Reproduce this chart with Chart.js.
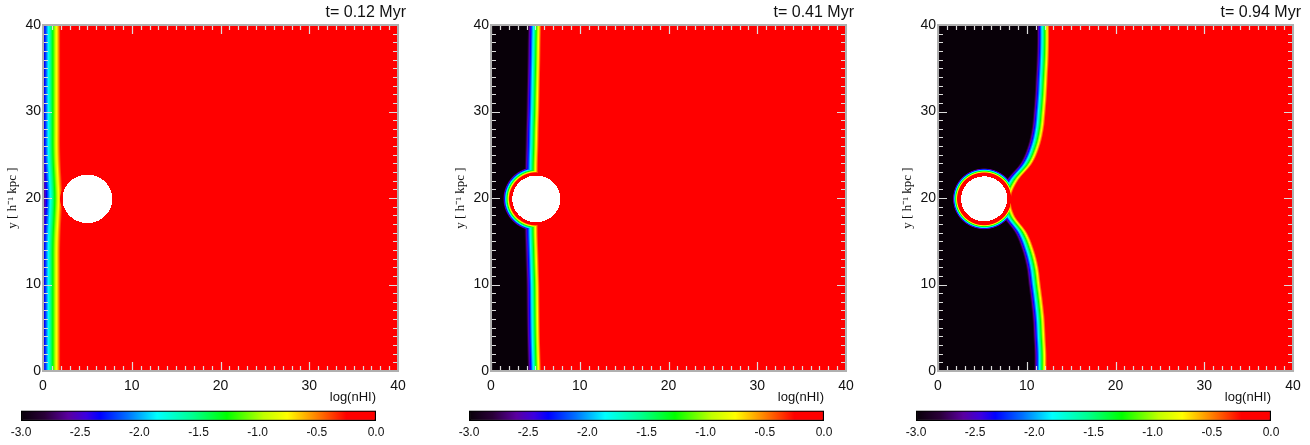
<!DOCTYPE html>
<html>
<head>
<meta charset="utf-8">
<script src="https://cdn.jsdelivr.net/npm/chart.js@4.4.1/dist/chart.umd.min.js"></script>
<style>
  body { margin: 0; background: #fff; width: 1310px; height: 445px; position: relative; overflow: hidden; }
  canvas { position: absolute; }
</style>
</head>
<body>
<canvas id="map0" width="447" height="400" style="left:0px;top:0px"></canvas>
<canvas id="map1" width="447" height="400" style="left:448px;top:0px"></canvas>
<canvas id="map2" width="447" height="400" style="left:895px;top:0px"></canvas>
<canvas id="bar0" width="447" height="60" style="left:0px;top:385px"></canvas>
<canvas id="bar1" width="447" height="60" style="left:448px;top:385px"></canvas>
<canvas id="bar2" width="447" height="60" style="left:895px;top:385px"></canvas>
<script>
// ---- data ----
const panelTitles = ['t= 0.12 Myr', 't= 0.41 Myr', 't= 0.94 Myr'];
const yKnots = [0, 2, 4, 6, 8, 10, 12, 14, 16, 18, 20, 22, 24, 26, 28, 30, 32, 34, 36, 38, 40];
// x of the ionisation front (middle of the colour band) at each yKnot
const front012 = [0.9, 0.9, 0.9, 0.9, 0.9, 0.9, 0.9, 0.9, 0.95, 1.05, 1.12, 1.05, 0.95, 0.9, 0.9, 0.9, 0.9, 0.9, 0.9, 0.9, 0.9];
const front041 = [4.95, 4.9, 4.85, 4.82, 4.8, 4.78, 4.72, 4.66, 4.6, 4.6, 4.6, 4.6, 4.62, 4.68, 4.72, 4.78, 4.82, 4.86, 4.9, 4.93, 4.97];
const front094 = [11.6, 11.6, 11.5, 11.4, 11.2, 10.95, 10.7, 10.2, 9.4, 8.0, 7.6, 8.4, 10.0, 10.85, 11.3, 11.5, 11.65, 11.75, 11.85, 11.9, 11.9];
const fronts = [front012, front041, front094];
const frontWidth = [2.6, 1.7, 1.6];   // log(nHI) -3..0 across this many kpc
// the cloud and the shell round it
const cloudX = [5.0, 5.1, 5.2];
const cloudY = [19.9, 19.9, 19.9];
const cloudR = [2.8, 2.7, 2.6];
const shellR = [3.4, 3.35, 3.25];
const shellWidth = [0.9, 0.8, 0.6];

const axisTicks = [0, 10, 20, 30, 40];
const cbarTicks = [-3.0, -2.5, -2.0, -1.5, -1.0, -0.5, 0.0];
const cmapStops = [-3.0, -2.8, -2.6, -2.45, -2.33, -2.1, -1.85, -1.55, -1.26, -0.95, -0.75, -0.5, -0.25, 0.0];
const cmapColors = ['#080008', '#2a0038', '#5a00a0', '#3c00e0', '#0000ff', '#0070ff', '#00ffff', '#00ff90', '#00ff00', '#c0ff00', '#ffff00', '#ff8000', '#ff0000', '#ff0000'];

const sans = "'Liberation Sans', Arial, sans-serif";
const textColor = '#111';

function hexRgb(h) {
  return [parseInt(h.slice(1, 3), 16), parseInt(h.slice(3, 5), 16), parseInt(h.slice(5, 7), 16)];
}
const cmapRgb = cmapColors.map(hexRgb);
function colorAt(v) {
  if (v <= cmapStops[0]) return cmapRgb[0];
  for (let k = 1; k < cmapStops.length; k++) {
    if (v <= cmapStops[k]) {
      const t = (v - cmapStops[k - 1]) / (cmapStops[k] - cmapStops[k - 1]);
      const a = cmapRgb[k - 1], b = cmapRgb[k];
      return [a[0] + (b[0] - a[0]) * t, a[1] + (b[1] - a[1]) * t, a[2] + (b[2] - a[2]) * t];
    }
  }
  return cmapRgb[cmapRgb.length - 1];
}

// smooth (catmull-rom) curve through the front points, like a line with tension
function frontAt(pts, y) {
  const n = pts.length;
  if (y <= pts[0].y) return pts[0].x;
  if (y >= pts[n - 1].y) return pts[n - 1].x;
  let k = 1;
  while (k < n - 1 && y > pts[k].y) k++;
  const p0 = pts[Math.max(0, k - 2)].x, p1 = pts[k - 1].x, p2 = pts[k].x, p3 = pts[Math.min(n - 1, k + 1)].x;
  const t = (y - pts[k - 1].y) / (pts[k].y - pts[k - 1].y);
  const t2 = t * t, t3 = t2 * t;
  return 0.5 * (2 * p1 + (-p0 + p2) * t + (2 * p0 - 5 * p1 + 4 * p2 - p3) * t2 + (-p0 + 3 * p1 - 3 * p2 + p3) * t3);
}

// paints the log(nHI) field behind the datasets, pixel by pixel, through the scales
const fieldPlugin = {
  id: 'field',
  beforeDatasetsDraw(chart, args, opts) {
    const p = opts.panel;
    const xs = chart.scales.x, ys = chart.scales.y;
    const a = chart.chartArea;
    const L = Math.round(a.left), T = Math.round(a.top);
    const W = Math.round(a.right) - L, H = Math.round(a.bottom) - T;
    const img = chart.ctx.createImageData(W, H);
    const pts = chart.data.datasets[0].data;
    for (let j = 0; j < H; j++) {
      const y = ys.getValueForPixel(T + j + 0.5);
      const xf = frontAt(pts, y);
      for (let i = 0; i < W; i++) {
        const x = xs.getValueForPixel(L + i + 0.5);
        const idx = (j * W + i) * 4;
        const r = Math.hypot(x - cloudX[p], y - cloudY[p]);
        if (r < cloudR[p]) {
          img.data[idx] = 255; img.data[idx + 1] = 255; img.data[idx + 2] = 255; img.data[idx + 3] = 255;
          continue;
        }
        let v = -1.5 + 3 * (x - xf) / frontWidth[p];
        const vs = -1.5 + 3 * (shellR[p] - r) / shellWidth[p];
        v = Math.min(0, Math.max(-3, Math.max(v, vs)));
        const c = colorAt(v);
        img.data[idx] = c[0]; img.data[idx + 1] = c[1]; img.data[idx + 2] = c[2]; img.data[idx + 3] = 255;
      }
    }
    chart.ctx.putImageData(img, L, T);
  },
  afterDraw(chart, args, opts) {
    const ctx = chart.ctx;
    const xs = chart.scales.x, ys = chart.scales.y;
    const a = chart.chartArea;
    ctx.save();
    // inward tick marks on all four sides
    ctx.strokeStyle = '#dcdcdc';
    ctx.lineWidth = 1.2;
    ctx.beginPath();
    for (let v = 0; v <= 40; v++) {
      const len = v % 10 === 0 ? 9 : 5;
      const px = Math.round(xs.getPixelForValue(v)) + 0.5;
      const py = Math.round(ys.getPixelForValue(v)) + 0.5;
      ctx.moveTo(px, a.bottom); ctx.lineTo(px, a.bottom - len);
      ctx.moveTo(px, a.top); ctx.lineTo(px, a.top + len);
      ctx.moveTo(a.left, py); ctx.lineTo(a.left + len, py);
      ctx.moveTo(a.right, py); ctx.lineTo(a.right - len, py);
    }
    ctx.stroke();
    ctx.strokeStyle = '#b0b0b0';
    ctx.lineWidth = 2;
    ctx.strokeRect(a.left, a.top, a.right - a.left, a.bottom - a.top);
    // panel time label
    ctx.fillStyle = textColor;
    ctx.font = '16px ' + sans;
    ctx.textAlign = 'right';
    ctx.textBaseline = 'middle';
    ctx.fillText(opts.title, a.right + 8, 13);
    ctx.restore();
  }
};

for (let p = 0; p < 3; p++) {
  new Chart(document.getElementById('map' + p), {
    type: 'scatter',
    data: {
      datasets: [{
        label: 'front',
        data: yKnots.map((y, k) => ({ x: fronts[p][k], y: y })),
        pointRadius: 0,
        showLine: false
      }]
    },
    options: {
      responsive: false,
      animation: false,
      layout: { padding: { left: 2, right: 49, top: 25, bottom: 0 } },
      plugins: {
        legend: { display: false },
        tooltip: { enabled: false },
        field: { panel: p, title: panelTitles[p] }
      },
      scales: {
        x: {
          type: 'linear', min: 0, max: 40,
          afterBuildTicks: s => { s.ticks = axisTicks.map(v => ({ value: v })); },
          afterFit: s => { s.height = 29; },
          grid: { display: false, drawTicks: false },
          border: { display: false },
          ticks: { padding: 7, color: textColor, font: { family: sans, size: 14 }, maxRotation: 0 }
        },
        y: {
          type: 'linear', min: 0, max: 40,
          afterBuildTicks: s => { s.ticks = axisTicks.map(v => ({ value: v })); },
          afterFit: s => { s.width = 41; },
          grid: { display: false, drawTicks: false },
          border: { display: false },
          ticks: { padding: 2, color: textColor, font: { family: sans, size: 14 } },
          title: {
            display: true, text: 'y [ h\u207B\u00B9 kpc ]', color: textColor,
            font: { family: "'Liberation Serif', 'Times New Roman', serif", size: 13 },
            padding: { top: 3, bottom: 0 }
          }
        }
      }
    },
    plugins: [fieldPlugin]
  });

  // colour bar
  new Chart(document.getElementById('bar' + p), {
    type: 'bar',
    data: {
      labels: [''],
      datasets: [{
        data: [[cbarTicks[0], cbarTicks[cbarTicks.length - 1]]],
        backgroundColor: function (c) {
          const chart = c.chart;
          if (!chart.chartArea) return '#ff0000';
          const xs = chart.scales.x;
          const lo = cmapStops[0], hi = cmapStops[cmapStops.length - 1];
          const g = chart.ctx.createLinearGradient(xs.getPixelForValue(lo), 0, xs.getPixelForValue(hi), 0);
          cmapStops.forEach((s, k) => g.addColorStop((s - lo) / (hi - lo), cmapColors[k]));
          return g;
        },
        borderColor: '#000',
        borderWidth: 1.5,
        borderSkipped: false,
        barPercentage: 1,
        categoryPercentage: 1
      }]
    },
    options: {
      indexAxis: 'y',
      responsive: false,
      animation: false,
      layout: { padding: { left: 21, right: 71, top: 0, bottom: 0 } },
      plugins: {
        legend: { display: false },
        tooltip: { enabled: false },
        title: {
          display: true, text: 'log(nHI)', align: 'end', position: 'top', color: textColor,
          font: { family: sans, size: 13, weight: 'normal' },
          padding: { top: 5, bottom: 5 }
        }
      },
      scales: {
        x: {
          type: 'linear', min: -3, max: 0,
          afterBuildTicks: s => { s.ticks = cbarTicks.map(v => ({ value: v })); },
          afterFit: s => { s.height = 24; },
          grid: { display: false, drawTicks: false },
          border: { display: false },
          ticks: { padding: 4, color: textColor, font: { family: sans, size: 12 }, autoSkip: false, maxRotation: 0, callback: v => Number(v).toFixed(1) }
        },
        y: { display: false }
      }
    }
  });
}
</script>
</body>
</html>
